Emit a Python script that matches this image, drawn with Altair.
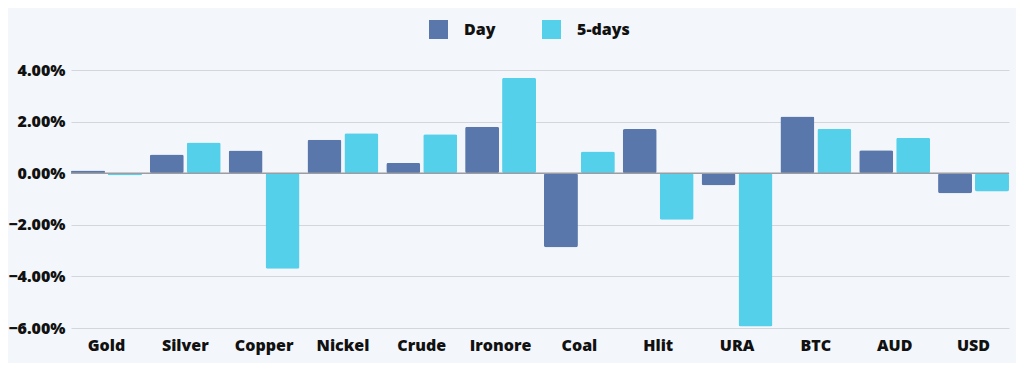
import altair as alt
import pandas as pd

categories = ["Gold", "Silver", "Copper", "Nickel", "Crude", "Ironore",
              "Coal", "Hlit", "URA", "BTC", "AUD", "USD"]
day = [0.10, 0.72, 0.88, 1.30, 0.40, 1.80, -2.87, 1.71, -0.47, 2.20, 0.89, -0.78]
five_days = [-0.08, 1.19, -3.70, 1.55, 1.51, 3.70, 0.84, -1.80, -5.94, 1.72, 1.37, -0.71]
series = ["Day", "5-days"]
colors = ["#5a77ab", "#55d0eb"]
y_ticks = [-6, -4, -2, 0, 2, 4]

rows = []
for c, d, f in zip(categories, day, five_days):
    rows.append({"Category": c, "Series": "Day", "Value": d / 100})
    rows.append({"Category": c, "Series": "5-days", "Value": f / 100})
df = pd.DataFrame(rows)

FONT = "Open Sans"
FS = 16

bars = alt.Chart(df).mark_bar(cornerRadius=2).encode(
    x=alt.X("Category:N", sort=categories, title=None,
            scale=alt.Scale(paddingInner=0.1, paddingOuter=0),
            axis=alt.Axis(labelAngle=0, ticks=False, domain=False, grid=False,
                          labelFontSize=FS, labelFontWeight=800,
                          labelColor="#111111", labelPadding=9, labelFont=FONT)),
    xOffset=alt.XOffset("Series:N", sort=series,
                        scale=alt.Scale(paddingInner=0.08, paddingOuter=0)),
    y=alt.Y("Value:Q", title=None,
            scale=alt.Scale(domain=[-0.06, 0.04], nice=False),
            axis=alt.Axis(values=[t / 100 for t in y_ticks], format=".2%",
                          ticks=False, domain=False, grid=True,
                          gridColor="#d3d7db", gridWidth=1.2,
                          labelFontSize=FS, labelFontWeight=800,
                          labelColor="#111111", labelPadding=6, labelFont=FONT)),
    color=alt.Color("Series:N", sort=series,
                    scale=alt.Scale(domain=series, range=colors),
                    legend=alt.Legend(title=None, orient="none", direction="horizontal",
                                      legendX=358, legendY=-50,
                                      symbolType="square", symbolSize=361,
                                      symbolStrokeWidth=0, labelFontSize=FS,
                                      labelFontWeight=800, labelFont=FONT,
                                      labelColor="#111111", columnPadding=46,
                                      labelOffset=16)),
)

zero = alt.Chart(pd.DataFrame({"y": [0]})).mark_rule(color="#9a9ea3", strokeWidth=1.5).encode(
    y="y:Q"
)

chart = alt.layer(bars, zero).properties(
    width=938, height=258,
    background="#f3f6fa",
    padding={"left": 0, "top": 12, "right": 6, "bottom": 10},
).configure_view(stroke=None)

chart.save("out.html", embed_options={"renderer": "svg", "actions": False})
